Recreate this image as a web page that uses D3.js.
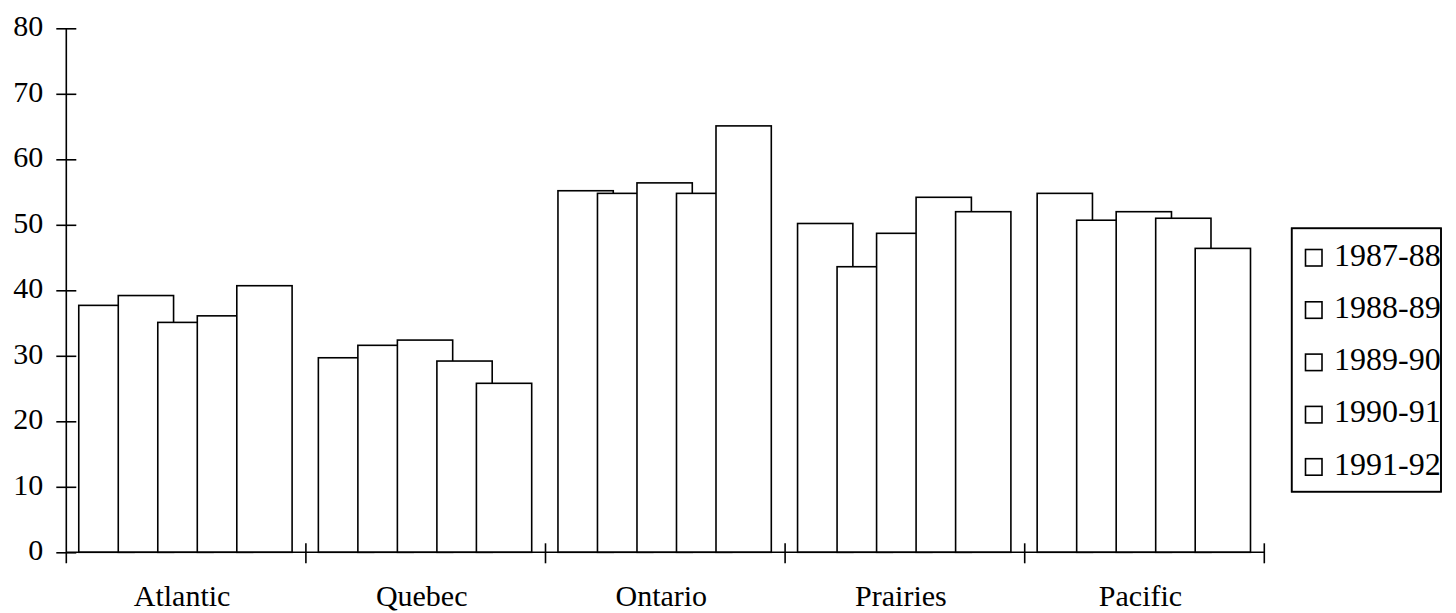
<!DOCTYPE html>
<html>
<head>
<meta charset="utf-8">
<script src="https://cdn.jsdelivr.net/npm/d3@7"></script>
<style>
  html, body { margin: 0; padding: 0; background: #fff; }
  svg { display: block; }
  text { font-family: "Liberation Serif", "Times New Roman", serif; fill: #000; }
</style>
</head>
<body>
<svg id="chart" width="1456" height="613"></svg>
<script>
const categories = ["Atlantic", "Quebec", "Ontario", "Prairies", "Pacific"];
const seriesNames = ["1987-88", "1988-89", "1989-90", "1990-91", "1991-92"];
const s1987 = [37.7, 29.7, 55.2, 50.2, 54.8];
const s1988 = [39.2, 31.6, 54.8, 43.6, 50.7];
const s1989 = [35.1, 32.4, 56.4, 48.7, 52.0];
const s1990 = [36.1, 29.2, 54.8, 54.2, 51.0];
const s1991 = [40.7, 25.8, 65.1, 52.0, 46.4];
const yTicks = [0, 10, 20, 30, 40, 50, 60, 70, 80];

const seriesValues = [s1987, s1988, s1989, s1990, s1991];

const svg = d3.select("#chart");
const plotL = 66.3, plotR = 1264.3, plotT = 28.3, plotB = 552.3;

const x = d3.scaleBand().domain(categories).range([plotL, plotR]).paddingInner(0).paddingOuter(0);
const y = d3.scaleLinear().domain([0, 80]).range([plotB, plotT]);
const bw = x.bandwidth();
const inner = d3.scaleLinear().domain([0, seriesNames.length - 1]).range([bw * 0.052, bw * 0.052 + 4 * bw * 0.1649]);
const barW = bw * 0.2308;

// Bars
categories.forEach((c, ci) => {
  const g = svg.append("g");
  g.selectAll("rect")
    .data(seriesNames.map((s, si) => ({ s, si, v: seriesValues[si][ci] })))
    .join("rect")
    .attr("x", d => x(c) + inner(d.si))
    .attr("y", d => y(d.v))
    .attr("width", barW)
    .attr("height", d => y(0) - y(d.v))
    .attr("fill", "#fff")
    .attr("stroke", "#000")
    .attr("stroke-width", 1.6);
});

// Y axis
const yAxis = svg.append("g").attr("transform", `translate(${plotL},0)`)
  .call(d3.axisLeft(y).tickValues(yTicks).tickSize(10).tickPadding(13).tickFormat(d3.format("d")));
yAxis.select(".domain").remove();
yAxis.selectAll(".tick line").attr("x1", -10).attr("x2", 10).attr("stroke", "#000").attr("stroke-width", 1.6);
yAxis.selectAll(".tick text").attr("font-size", 30).attr("font-family", "Liberation Serif").attr("dy", "0.25em").attr("x", -23);
svg.append("line").attr("x1", plotL).attr("x2", plotL).attr("y1", y(80)).attr("y2", plotB + 11)
  .attr("stroke", "#000").attr("stroke-width", 1.6);

// X axis
svg.append("line").attr("x1", plotL).attr("x2", plotR).attr("y1", plotB).attr("y2", plotB)
  .attr("stroke", "#000").attr("stroke-width", 1.6);
const edges = categories.map(c => x(c)).concat([plotR]);
svg.selectAll(".xtick").data(edges.slice(1)).join("line")
  .attr("class", "xtick")
  .attr("x1", d => d).attr("x2", d => d)
  .attr("y1", plotB - 9).attr("y2", plotB + 11)
  .attr("stroke", "#000").attr("stroke-width", 1.6);
svg.selectAll(".xlab").data(categories).join("text")
  .attr("class", "xlab")
  .attr("x", d => x(d) + bw / 2 - 4)
  .attr("y", 606)
  .attr("text-anchor", "middle")
  .attr("font-size", 30)
  .text(d => d);

// Legend
const lg = svg.append("g");
const lx = 1291.7, ly = 228.3, lw = 149.3, lh = 263.4;
svg.append("defs").append("clipPath").attr("id", "lclip")
  .append("rect").attr("x", lx).attr("y", ly).attr("width", lw).attr("height", lh);
lg.append("rect").attr("x", lx).attr("y", ly).attr("width", lw).attr("height", lh)
  .attr("fill", "#fff").attr("stroke", "#000").attr("stroke-width", 1.6);
const ly0 = 258, lstep = 52.3;
const items = lg.selectAll(".li").data(seriesNames).join("g").attr("class", "li")
  .attr("transform", (d, i) => `translate(0,${ly0 + i * lstep})`);
items.append("rect").attr("x", 1305.5).attr("y", -8.5).attr("width", 16.5).attr("height", 16.5)
  .attr("fill", "#fff").attr("stroke", "#000").attr("stroke-width", 1.6);
items.append("text").attr("x", 1334).attr("y", 7.5).attr("font-size", 32)
  .text(d => d);
lg.append("rect").attr("x", lx).attr("y", ly).attr("width", lw).attr("height", lh)
  .attr("fill", "none").attr("stroke", "#000").attr("stroke-width", 1.6);
</script>
</body>
</html>
